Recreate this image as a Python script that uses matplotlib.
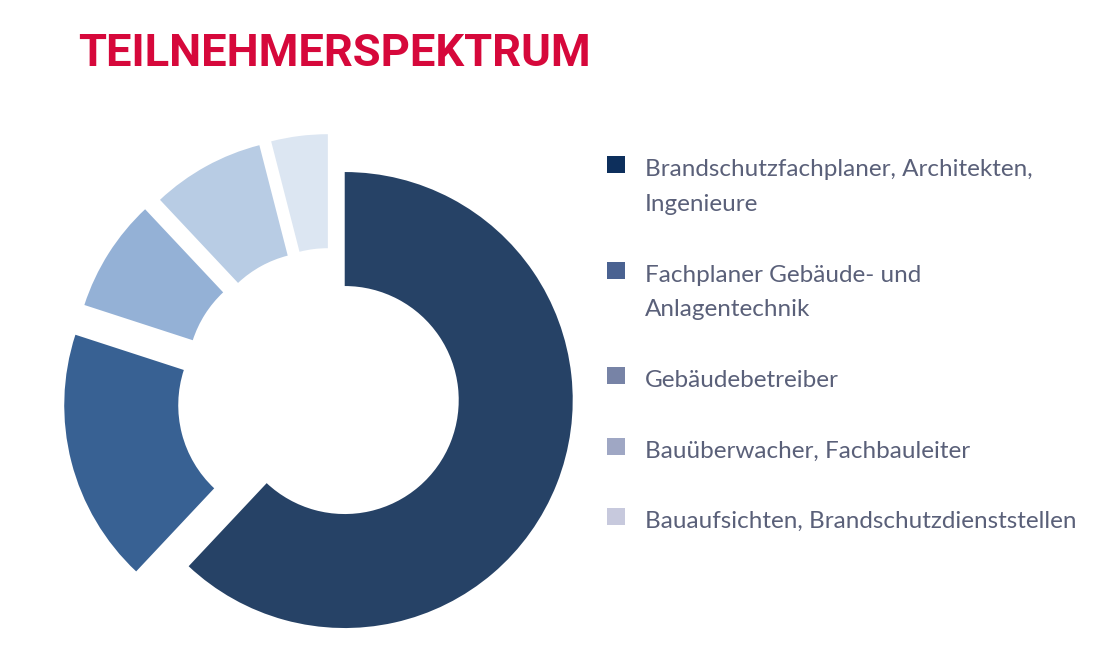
import numpy as np
import matplotlib.pyplot as plt
from matplotlib.patches import Rectangle

# data
categories = [
    "Brandschutzfachplaner, Architekten,\nIngenieure",
    "Fachplaner Gebäude- und\nAnlagentechnik",
    "Gebäudebetreiber",
    "Bauüberwacher, Fachbauleiter",
    "Bauaufsichten, Brandschutzdienststellen",
]
shares = [62, 18, 8, 8, 4]
slice_colors = ["#264266", "#386193", "#94b1d6", "#b8cce4", "#dce6f2"]
legend_colors = ["#0d2f5c", "#4a6291", "#7783a6", "#9fa7c4", "#c7c9dd"]
explode_frac = [0.06, 0.18, 0.16, 0.145, 0.145]

W, H = 1110, 666
R = 228          # outer radius in px
center = (332, H - 395)

fig = plt.figure(figsize=(W / 100, H / 100), dpi=100)
ax = fig.add_axes([0, 0, 1, 1])

ax.pie(shares, colors=slice_colors, startangle=90, counterclock=False,
       radius=R, center=center, explode=[e * R for e in explode_frac],
       wedgeprops=dict(width=R * 0.5, linewidth=0), frame=True)
ax.set_xlim(0, W)
ax.set_ylim(0, H)
ax.set_aspect("equal")
ax.axis("off")

# title
ax.text(78, H - 66, "TEILNEHMERSPEKTRUM", color="#d6083b", fontsize=32.7,
        family="Roboto", fontweight="bold", va="baseline", ha="left")

# legend, drawn by hand
text_color = "#5a6079"
line_h = 35
y = 164.5
for label, col in zip(categories, legend_colors):
    ax.add_patch(Rectangle((607, H - y - 8.5), 17.5, 17, color=col, lw=0))
    lines = label.split("\n")
    for i, line in enumerate(lines):
        ax.text(645, H - (y + 11.5 + i * line_h), line, color=text_color,
                fontsize=17.5, family="Lato", fontweight="normal",
                va="baseline", ha="left")
    y += line_h * len(lines) + 35.5

fig.savefig("out.png", dpi=100, facecolor="white")
